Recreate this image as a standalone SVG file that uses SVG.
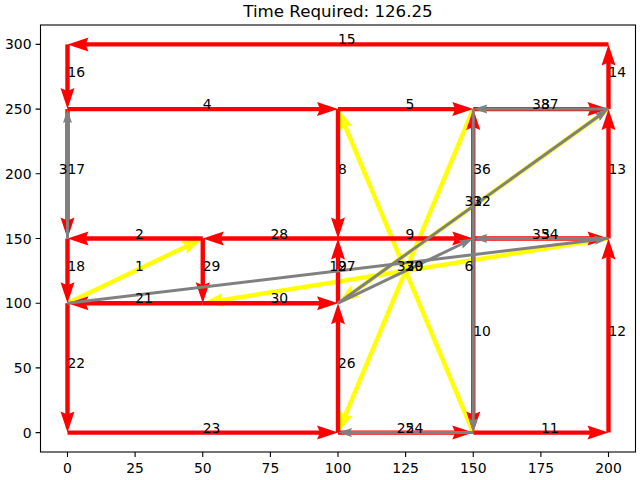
<svg xmlns="http://www.w3.org/2000/svg" width="640" height="480" viewBox="0 0 640 480">
<style>
text{font-family:"DejaVu Sans","Liberation Sans",sans-serif;fill:#000}
.lbl{font-size:13.9px}
.tk{font-size:13.9px}
.ttl{font-size:16.67px}
.r{stroke:#ff0000;stroke-width:4.4;fill:none;marker-end:url(#hr)}
.y{stroke:#ffff00;stroke-width:4.4;fill:none;marker-end:url(#hy)}
.g{stroke:#808080;stroke-width:3;fill:none;marker-end:url(#hg)}
.ax{stroke:#000;stroke-width:1.1;fill:none}
</style>
<defs>
<marker id="hr" markerUnits="userSpaceOnUse" orient="auto" viewBox="-6 -8 23 16" markerWidth="23" markerHeight="16" refX="0" refY="0" overflow="visible"><path d="M16,0 L-5,-7 L-2,0 L-5,7 Z" fill="#ff0000"/></marker>
<marker id="hy" markerUnits="userSpaceOnUse" orient="auto" viewBox="-6 -8 23 16" markerWidth="23" markerHeight="16" refX="0" refY="0" overflow="visible"><path d="M16,0 L-5,-7 L-2,0 L-5,7 Z" fill="#ffff00"/></marker>
<marker id="hg" markerUnits="userSpaceOnUse" orient="auto" viewBox="-4 -5 16 10" markerWidth="16" markerHeight="10" refX="0" refY="0" overflow="visible"><path d="M11,0 L-3,-4.5 L-1,0 L-3,4.5 Z" fill="#808080"/></marker>
</defs>
<rect width="640" height="480" fill="#fff"/>
<text class="ttl" x="338" y="16.7" text-anchor="middle">Time Required: 126.25</text>
<g id="axes">
<rect class="ax" x="40.5" y="25" width="595" height="427"/>
<path class="ax" d="M67.5,452v4.9M135.1,452v4.9M202.75,452v4.9M270.4,452v4.9M338,452v4.9M405.6,452v4.9M473.25,452v4.9M540.9,452v4.9M608.5,452v4.9M40.5,432.6h-4.9M40.5,367.9h-4.9M40.5,303.2h-4.9M40.5,238.5h-4.9M40.5,173.8h-4.9M40.5,109.1h-4.9M40.5,44.4h-4.9"/>
<g class="tk" text-anchor="middle">
<text x="67.5" y="473">0</text><text x="135.1" y="473">25</text><text x="202.75" y="473">50</text><text x="270.4" y="473">75</text><text x="338" y="473">100</text><text x="405.6" y="473">125</text><text x="473.25" y="473">150</text><text x="540.9" y="473">175</text><text x="608.5" y="473">200</text>
</g>
<g class="tk" text-anchor="end">
<text x="31.5" y="437.6">0</text><text x="31.5" y="372.9">50</text><text x="31.5" y="308.2">100</text><text x="31.5" y="243.5">150</text><text x="31.5" y="178.8">200</text><text x="31.5" y="114.1">250</text><text x="31.5" y="49.4">300</text>
</g>
</g>
<g id="connectors">
<g id="yellow-edges">
<path class="y" d="M67.5,303.2L188.32,245.4"/>
<path class="y" d="M608.5,238.5L218.55,300.68"/>
<path class="y" d="M473.25,432.6L344.17,123.86"/>
<path class="y" d="M473.25,109.1L344.17,417.84"/>
<path class="y" d="M608.5,109.1L351,293.87"/>
</g>
<g id="red-edges">
<path class="r" d="M608.5,44.4H83.5"/>
<path class="r" d="M67.5,44.4V93.1"/>
<path class="r" d="M67.5,109.1H322"/>
<path class="r" d="M338,109.1H457.25"/>
<path class="r" d="M473.25,109.1H592.5"/>
<path class="r" d="M608.5,109.1V60.4"/>
<path class="r" d="M608.5,238.5V125.1"/>
<path class="r" d="M608.5,432.6V254.5"/>
<path class="r" d="M473.25,432.6H592.5"/>
<path class="r" d="M338,432.6H457.25"/>
<path class="r" d="M67.5,432.6H322"/>
<path class="r" d="M67.5,303.2V416.6"/>
<path class="r" d="M67.5,238.5V287.2"/>
<path class="r" d="M67.5,109.1V222.5"/>
<path class="r" d="M202.75,238.5H83.5"/>
<path class="r" d="M338,238.5H218.75"/>
<path class="r" d="M202.75,238.5V287.2"/>
<path class="r" d="M202.75,303.2H83.5"/>
<path class="r" d="M202.75,303.2H322"/>
<path class="r" d="M338,109.1V222.5"/>
<path class="r" d="M338,303.2V254.5"/>
<path class="r" d="M338,432.6V319.2"/>
<path class="r" d="M338,238.5H457.25"/>
<path class="r" d="M473.25,238.5V125.1"/>
<path class="r" d="M473.25,238.5V416.6"/>
<path class="r" d="M473.25,238.5H592.5"/>
</g>
<g id="gray-edges">
<path class="g" d="M67.5,238.5V120.1"/>
<path class="g" d="M608.5,109.1H484.25"/>
<path class="g" d="M608.5,238.5H484.25"/>
<path class="g" d="M473.25,432.6H349"/>
<path class="g" d="M473.25,109.1V421.6"/>
<path class="g" d="M67.5,303.2L597.58,239.81"/>
<path class="g" d="M338,303.2L599.56,115.51"/>
<path class="g" d="M338,303.2L463.33,243.25"/>
</g>
</g>
<g id="labels" class="lbl">
<text x="338" y="44.4">15</text>
<text x="67.5" y="76.75">16</text>
<text x="202.75" y="109.1">4</text>
<text x="405.6" y="109.1">5</text>
<text x="532.06" y="109.1">38</text><text x="540.9" y="109.1">37</text>
<text x="608.5" y="76.75">14</text>
<text x="608.5" y="173.8">13</text>
<text x="608.5" y="335.55">12</text>
<text x="540.9" y="432.6">11</text>
<text x="396.76" y="432.6">25</text><text x="405.6" y="432.6">24</text>
<text x="202.75" y="432.6">23</text>
<text x="67.5" y="367.9">22</text>
<text x="67.5" y="270.85">18</text>
<text x="58.66" y="173.8">3</text><text x="67.5" y="173.8">17</text>
<text x="135.1" y="238.5">2</text>
<text x="270.4" y="238.5">28</text>
<text x="202.75" y="270.85">29</text>
<text x="135.1" y="303.2">21</text>
<text x="270.4" y="303.2">30</text>
<text x="338" y="173.8">8</text>
<text x="329.16" y="270.85">19</text><text x="338" y="270.85">27</text>
<text x="338" y="367.9">26</text>
<text x="405.6" y="238.5">9</text>
<text x="473.25" y="173.8">36</text>
<text x="473.25" y="335.55">10</text>
<text x="532.06" y="238.5">35</text><text x="540.9" y="238.5">34</text>
<text x="464.41" y="206.15">31</text><text x="473.25" y="206.15">32</text>
<text x="464.41" y="270.85">6</text>
<text x="135.1" y="270.85">1</text>
<text x="396.76" y="270.85">33</text><text x="405.6" y="270.85">39</text><text x="405.6" y="270.85">20</text><text x="405.6" y="270.85">7</text>
</g>
</svg>
